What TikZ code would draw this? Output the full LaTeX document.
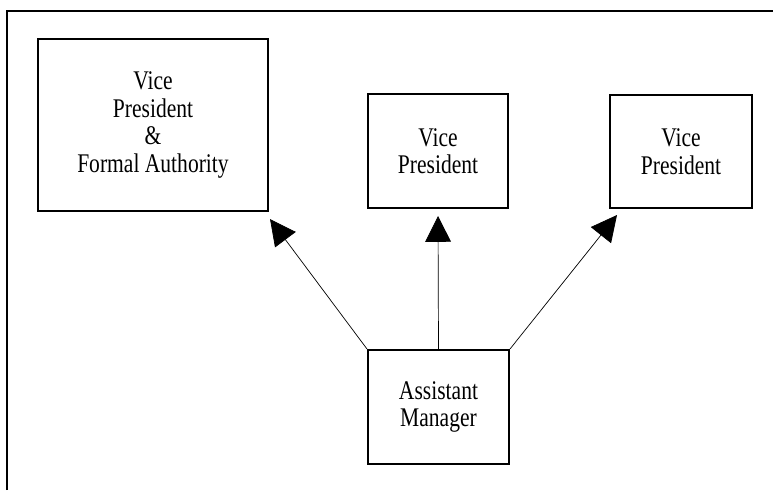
\documentclass[tikz,border=0pt]{standalone}
\usepackage{fontspec}
\setmainfont{Liberation Serif}[FakeStretch=0.8]
\usetikzlibrary{arrows.meta,calc}

\begin{document}
\begin{tikzpicture}[x=0.03cm, y=-0.03cm,
  box/.style={draw, line width=1.7pt, inner sep=0pt, align=center,
    font=\fontsize{23}{23.5}\selectfont},
  link/.style={line width=0.6pt, -{Triangle[length=22pt,width=22pt]}},
  frame/.style={line width=1.7pt}]
  \useasboundingbox (0,0) rectangle (773,490);

  % open frame: left and top edges only
  \draw[frame] (7,490) -- (7,10.5) -- (773,10.5);

  % boxes
  \node[box, minimum width=6.9cm, minimum height=5.16cm] (vp1) at (153,125)
    {Vice\\President\\\&\\Formal Authority};
  \node[box, minimum width=4.2cm, minimum height=3.42cm] (vp2) at (438,151)
    {Vice\\President};
  \node[box, minimum width=4.26cm, minimum height=3.39cm] (vp3) at (681,151.5)
    {Vice\\President};
  \node[box, minimum width=4.23cm, minimum height=3.42cm] (am) at (438.5,407)
    {Assistant\\Manager};

  % arrow tips stop just short of the upper boxes
  \coordinate (t1) at ($(vp1.south east)+(1,7)$);
  \coordinate (t2) at ($(vp2.south)+(0,7)$);
  \coordinate (t3) at ($(vp3.south west)+(8,6)$);

  \draw[link] (am.north west) -- (t1);
  \draw[link] (am.north) -- (t2);
  \draw[link] (am.north east) -- (t3);
\end{tikzpicture}
\end{document}
